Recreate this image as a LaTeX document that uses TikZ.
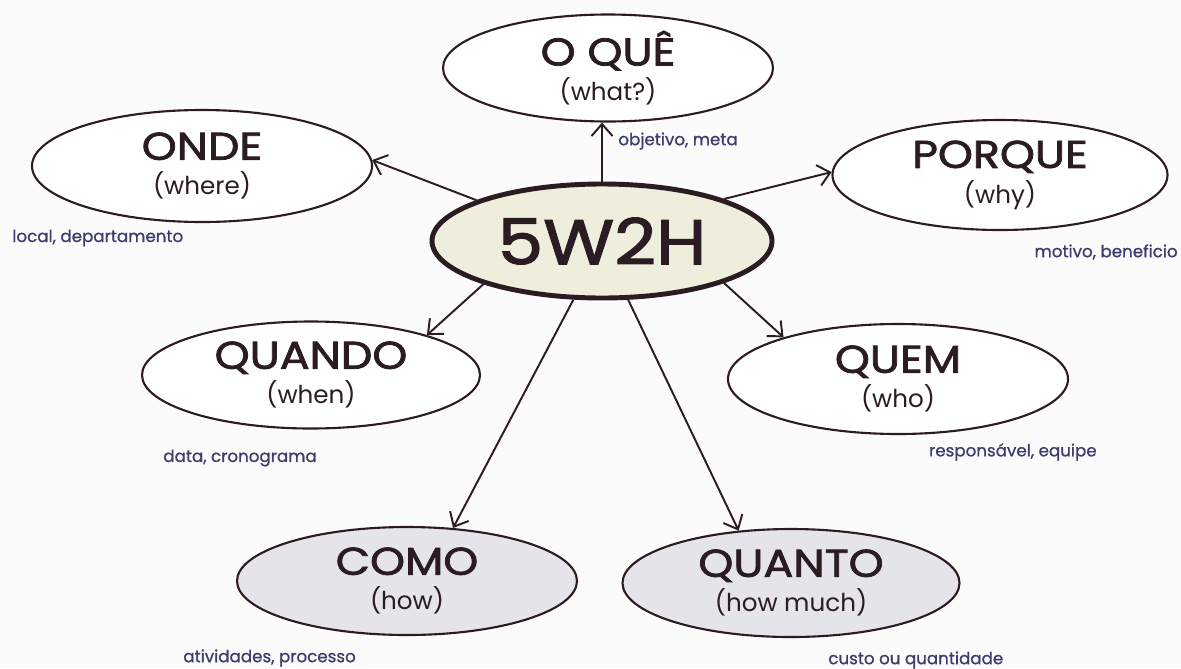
\documentclass[tikz,border=0pt]{standalone}
\usepackage{fontspec}
\setmainfont{Poppins}
\newfontfamily\heavyfont{Poppins}[FakeBold=2.0,FakeStretch=1.15]
\newfontfamily\notefont{Poppins}[FakeBold=0.8]
\usetikzlibrary{shapes.geometric,arrows.meta,positioning}

\definecolor{inkdark}{HTML}{2B1B22}
\definecolor{inknavy}{HTML}{3C3C6E}
\definecolor{hubfill}{HTML}{EFEEDC}
\definecolor{howfill}{HTML}{E4E4EA}
\definecolor{paper}{HTML}{FBFBFB}

\newcommand{\qtitle}[2]{{\heavyfont\fontsize{22}{20}\selectfont #1}\\ #2}

\begin{document}
\begin{tikzpicture}[
    wbox/.style={draw=inkdark, ellipse, line width=1.2pt, fill=white, inner sep=0pt,
        minimum width=6.8cm, minimum height=2.18cm, align=center, text=inkdark,
        font=\fontsize{14}{20}\selectfont},
    hbox/.style={wbox, fill=howfill},
    hub/.style={draw=inkdark, ellipse, line width=2.8pt, fill=hubfill, inner sep=0pt,
        minimum width=6.8cm, minimum height=2.28cm, text=inkdark,
        font=\heavyfont\fontsize{36}{38}\selectfont},
    lbl/.style={text=inknavy, font=\notefont\fontsize{9.5}{11}\selectfont, inner sep=0pt},
    link/.style={-{Straight Barb[length=2.4mm,width=4.2mm]}, line width=1.1pt, draw=inkdark}
]
    % page
    \fill[paper] (0,0) rectangle (23.62,-13.36);
    \useasboundingbox (0,0) rectangle (23.62,-13.36);

    % Hub
    \node[hub] (c) at (12.04,-4.82) {5W2H};

    % Questions
    \node[wbox, minimum width=6.6cm, minimum height=2.14cm] (oque) at (12.16,-1.36)
        {\qtitle{O QUÊ}{(what?)}};
    \node[wbox, minimum height=2.24cm] (onde) at (4.04,-3.32)
        {\qtitle{ONDE}{(where)}};
    \node[wbox, minimum width=6.7cm, minimum height=2.2cm] (porque) at (20.0,-3.5)
        {\qtitle{PORQUE}{(why)}};
    \node[wbox, minimum width=6.76cm, minimum height=2.14cm] (quando) at (6.22,-7.5)
        {\qtitle{QUANDO}{(when)}};
    \node[wbox, minimum height=2.2cm] (quem) at (17.96,-7.58)
        {\qtitle{QUEM}{(who)}};
    \node[hbox, minimum height=2.16cm] (como) at (8.14,-11.62)
        {\qtitle{COMO}{(how)}};
    \node[hbox, minimum width=6.74cm, minimum height=2.16cm] (quanto) at (15.82,-11.66)
        {\qtitle{QUANTO}{(how much)}};

    % Notes
    \node[lbl, anchor=west] (noque) at (12.36,-2.82) {objetivo, meta};
    \node[lbl, anchor=west] (nonde) at (0.24,-4.76) {local, departamento};
    \node[lbl, anchor=east] (nporque) at (23.56,-5.04) {motivo, beneficio};
    \node[lbl, anchor=west] (nquando) at (3.26,-9.16) {data, cronograma};
    \node[lbl, anchor=east] (nquem) at (21.94,-9.04) {responsável, equipe};
    \node[lbl, anchor=west] (ncomo) at (3.66,-13.16) {atividades, processo};
    \node[lbl, anchor=west] (nquanto) at (16.56,-13.2) {custo ou quantidade};

    % Connectors
    \draw[link] (c.north) -- (c.north |- oque.south);
    \draw[link] (c.162) -- (onde.2);
    \draw[link] (c.19) -- (porque.179);
    \draw[link] (c.200) -- (quando.19);
    \draw[link] (c.341) -- (quem.160);
    \draw[link] (c.244) -- (como.49);
    \draw[link] (c.294) -- (quanto.135);

\end{tikzpicture}
\end{document}
